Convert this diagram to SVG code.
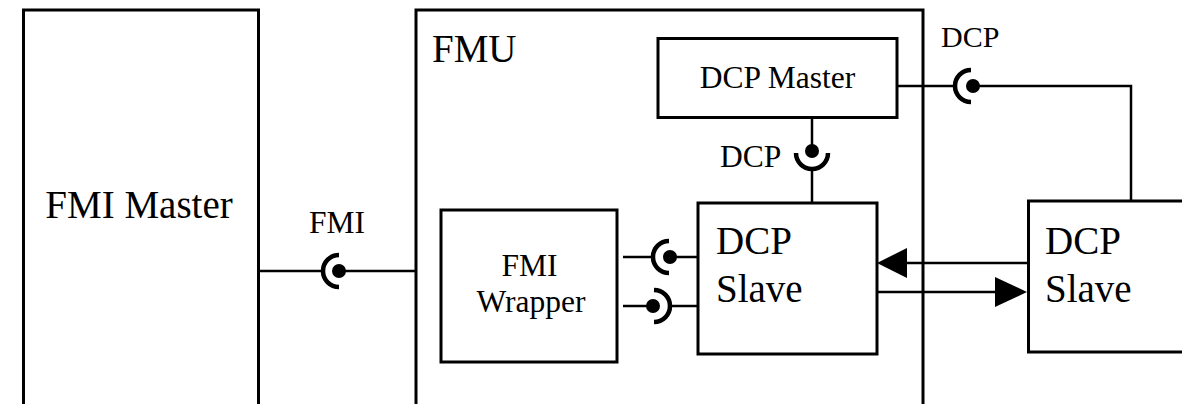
<svg xmlns="http://www.w3.org/2000/svg" width="1182" height="404" viewBox="0 0 1182 404">
<style>
.box{fill:#fff;stroke:#000;stroke-width:3}
.ln{fill:none;stroke:#000;stroke-width:2.5}
.arc{fill:none;stroke:#000;stroke-width:4.5}
.ball{fill:#000}
.arrow{fill:#000}
.t{font-family:'Liberation Serif','Times New Roman','DejaVu Serif',serif;fill:#000}
.big{font-size:39px}
.mid{font-size:31.5px}
.sm{font-size:30px}
.c{text-anchor:middle}
</style>
<rect width="1182" height="404" fill="#fff"/>
<g id="fmi-master">
<rect class="box" x="23.5" y="10" width="235" height="410"/>
<text class="t big c" x="139" y="218">FMI Master</text>
</g>
<g id="fmu">
<rect class="box" x="416" y="10" width="507" height="410"/>
<text class="t big" x="432" y="62">FMU</text>
</g>
<g id="dcp-master">
<rect class="box" x="658" y="38.5" width="239" height="79"/>
<text class="t mid c" x="777.5" y="88">DCP Master</text>
</g>
<g id="fmi-wrapper">
<rect class="box" x="441" y="210" width="176" height="152"/>
<text class="t mid c" x="529.5" y="276">FMI</text>
<text class="t mid c" x="531" y="312">Wrapper</text>
</g>
<g id="dcp-slave-inner">
<rect class="box" x="698" y="203" width="179" height="151"/>
<text class="t big" x="716" y="254">DCP</text>
<text class="t big" x="716" y="302">Slave</text>
</g>
<g id="dcp-slave-outer">
<rect class="box" x="1028.5" y="201" width="170" height="151"/>
<text class="t big" x="1045" y="254">DCP</text>
<text class="t big" x="1045" y="302">Slave</text>
</g>
<g id="connectors">
<line class="ln" x1="258" y1="271" x2="322" y2="271"/>
<path class="arc" d="M339,255 A16,16 0 0 0 339,287"/>
<circle class="ball" cx="339" cy="271" r="7"/>
<line class="ln" x1="339" y1="271" x2="416" y2="271"/>
<text class="t mid c" x="337" y="233">FMI</text>
<line class="ln" x1="623" y1="257" x2="653" y2="257"/>
<path class="arc" d="M669,241 A16,16 0 0 0 669,273"/>
<circle class="ball" cx="670" cy="257" r="7"/>
<line class="ln" x1="670" y1="257" x2="698" y2="257"/>
<line class="ln" x1="623" y1="306" x2="653" y2="306"/>
<circle class="ball" cx="653" cy="306" r="7"/>
<path class="arc" d="M654,290 A16,16 0 0 1 654,322"/>
<line class="ln" x1="671" y1="306" x2="698" y2="306"/>
<line class="ln" x1="812" y1="117" x2="812" y2="151"/>
<circle class="ball" cx="812" cy="151" r="7"/>
<path class="arc" d="M796,153 A16,16 0 0 0 828,153"/>
<line class="ln" x1="812" y1="170" x2="812" y2="203"/>
<text class="t mid" x="720" y="167">DCP</text>
<line class="ln" x1="897" y1="86" x2="954" y2="86"/>
<path class="arc" d="M971,70 A16,16 0 0 0 971,102"/>
<circle class="ball" cx="973" cy="86" r="7"/>
<polyline class="ln" points="973,86 1131,86 1131,201"/>
<text class="t sm" x="941" y="47">DCP</text>
<line class="ln" x1="1028" y1="263" x2="905" y2="263"/>
<polygon class="arrow" points="877,263 907,248 907,278"/>
<line class="ln" x1="877" y1="292" x2="997" y2="292"/>
<polygon class="arrow" points="1027,292 995,277 995,307"/>
</g>
</svg>
